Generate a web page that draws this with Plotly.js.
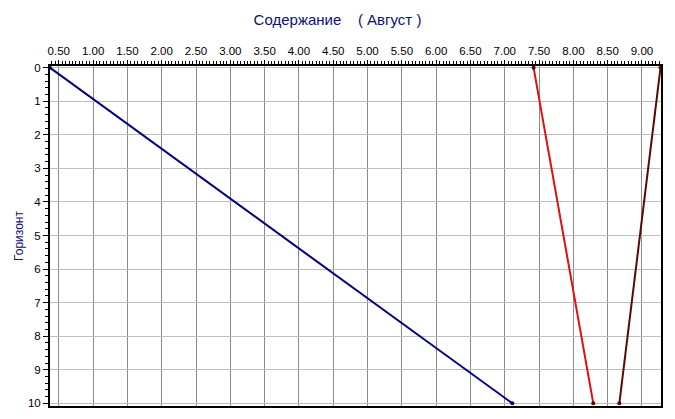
<!DOCTYPE html>
<html><head><meta charset="utf-8">
<script src="https://cdn.plot.ly/plotly-3.0.1.min.js"></script>
<style>html,body{margin:0;padding:0;background:#fff;}#chart{width:675px;height:419px;}</style>
</head><body><div id="chart"></div>
<script>
var horizonDepth = [0, 10];
var seriesBlue = [0.37, 7.11];
var seriesRed = [7.42, 8.29];
var seriesDarkRed = [9.27, 8.67];
var xTickVals = [0.5,1.0,1.5,2.0,2.5,3.0,3.5,4.0,4.5,5.0,5.5,6.0,6.5,7.0,7.5,8.0,8.5,9.0];
var xTickText = xTickVals.map(function(v){return v.toFixed(2);});
var yTickVals = [0,1,2,3,4,5,6,7,8,9,10];

function tr(x, color){
  return {x:x, y:horizonDepth, mode:'lines+markers', type:'scatter',
    line:{color:color, width:2}, marker:{color:color, size:4}, showlegend:false, hoverinfo:'none'};
}
var data = [tr(seriesBlue,'#000080'), tr(seriesRed,'#e01010'), tr(seriesDarkRed,'#5a0a0a')];
data[1].marker.color = '#600000';
var layout = {
  width:675, height:419, margin:{l:50, r:14, t:66, b:13},
  paper_bgcolor:'#fff', plot_bgcolor:'#fff',
  font:{family:'Arial, Liberation Sans, sans-serif', size:11.5, color:'#000'},
  title:{text:'Содержание    ( Август )', x:0.5, xanchor:'center', y:0.952, yanchor:'middle',
    font:{size:15, color:'#101070'}},
  xaxis:{side:'top', range:[0.372, 9.277], tickvals:xTickVals, ticktext:xTickText,
    showgrid:true, gridcolor:'#8a8a8a', gridwidth:1, zeroline:false,
    showline:true, linecolor:'#000', linewidth:2, mirror:true,
    ticks:'outside', ticklen:4, tickcolor:'#000', tickwidth:1,
    minor:{dtick:0.05, tick0:0, ticks:'outside', ticklen:3, tickcolor:'#000', showgrid:false},
    tickfont:{size:11.5, color:'#000'}, automargin:false},
  yaxis:{range:[10.08, -0.05], tickvals:yTickVals,
    showgrid:true, gridcolor:'#bdbdbd', gridwidth:1, zeroline:false,
    showline:true, linecolor:'#000', linewidth:2, mirror:true,
    ticks:'outside', ticklen:5, tickcolor:'#000', tickwidth:1,
    minor:{dtick:0.2, tick0:0, ticks:'outside', ticklen:3, tickcolor:'#000', showgrid:false},
    tickfont:{size:11.5, color:'#000'}, automargin:false,
    title:{text:'Горизонт', standoff:2, font:{size:12, color:'#101070'}}}
};
Plotly.newPlot('chart', data, layout, {staticPlot:true, displayModeBar:false});
</script></body></html>
